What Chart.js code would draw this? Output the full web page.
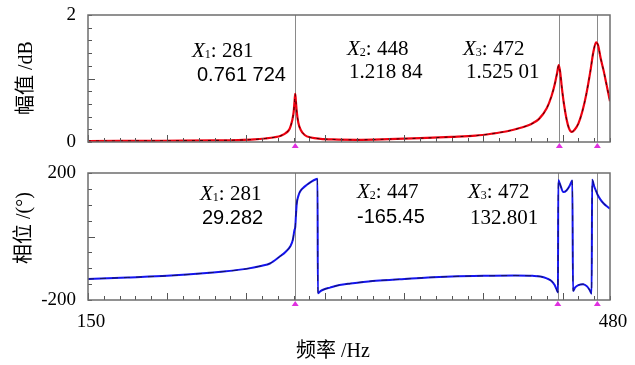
<!DOCTYPE html>
<html>
<head>
<meta charset="utf-8">
<script src="https://cdn.jsdelivr.net/npm/chart.js@4.4.1/dist/chart.umd.min.js"></script>
<style>
    html, body { margin: 0; padding: 0; background: #fff; }
    #wrap { position: relative; width: 635px; height: 365px; overflow: hidden; background: #fff; }
    canvas { position: absolute; left: 0; }
    #magChart { top: 0; }
    #phaseChart { top: 160px; }
</style>
</head>
<body>
<div id="wrap">
    <canvas id="magChart" width="635" height="160"></canvas>
    <canvas id="phaseChart" width="635" height="205"></canvas>
</div>
<script>
// --- data ---
const magFreq = [150, 170, 190, 210, 230, 245, 255, 262, 268, 272, 275, 277.5, 279, 280, 280.6, 281,
    281.4, 282, 283, 284.5, 287, 291, 297, 305, 320, 340, 360, 380, 395, 405, 415, 423, 430, 435, 440,
    443, 445, 446.5, 447.6, 448.5, 449.5, 451, 452.6, 454, 455.8, 457.5, 460, 462.5, 465, 467.5, 469.5,
    471.2, 472.5, 474, 476, 478, 480];
const magDb = [0.015, 0.017, 0.019, 0.021, 0.025, 0.03, 0.04, 0.055, 0.075, 0.1, 0.14, 0.21, 0.33, 0.47, 0.65, 0.76,
    0.65, 0.47, 0.3, 0.19, 0.11, 0.07, 0.05, 0.04, 0.035, 0.045, 0.06, 0.08, 0.1, 0.13, 0.17, 0.22, 0.28, 0.36, 0.53,
    0.72, 0.9, 1.08, 1.21, 1.1, 0.87, 0.58, 0.35, 0.22, 0.16, 0.19, 0.29, 0.48, 0.75, 1.1, 1.42,
    1.57, 1.52, 1.33, 1.12, 0.88, 0.64];

const phaseFreq = [150, 175, 200, 225, 250, 260, 265, 271, 275, 278, 279.5, 280.5, 281, 281.5, 282, 283, 284,
    286, 288.2, 291, 294.5, 295.1, 295.3, 297, 299, 303, 309, 316, 330, 347, 365, 380, 400, 420, 431, 436,
    440, 443, 445, 446.5, 447.1, 447.3, 448.4, 450.5, 452.5, 454.5, 455.8, 456.2, 456.6, 458, 460, 463,
    465.5, 467.3, 468.4, 468.7, 470, 471.5, 472, 474, 476, 478, 480];
const phaseDeg = [-134, -129, -124, -115, -102, -92, -85, -64, -48, -30, -10, 20, 29, 70, 105, 128, 141,
    153, 162, 172, 181, 182, -179, -172, -167, -161, -153, -148, -140, -135, -129, -126, -124, -123, -124, -126,
    -132, -140, -153, -170, -176, 178, 165, 140, 145, 160, 174, 176, -172, -160, -153, -150,
    -157, -170, -180, 179, 158, 140, 133, 116, 104, 95, 88];

const magCursors = [281, 448, 472];
const magReadings = ['0.761 724', '1.218 84', '1.525 01'];
const phaseCursors = [281, 447, 472];
const phaseReadings = ['29.282', '-165.45', '132.801'];

const freqTickLabels = [150, 480];
const magTickLabels = [0, 2];
const phaseTickLabels = [-200, 200];

// --- layout / style ---
const SERIF = '"Liberation Serif", "Times New Roman", "Noto Sans CJK SC", serif';
const SANS = '"Liberation Sans", Arial, sans-serif';

const magNotePos = [
    { x: 192, y: 57, vx: 197, vy: 81, vfont: SANS },
    { x: 347, y: 55, vx: 349, vy: 78, vfont: SERIF },
    { x: 463, y: 55, vx: 466, vy: 78, vfont: SERIF }
];
const phaseNotePos = [
    { x: 200, y: 40, vx: 202, vy: 64, vfont: SANS },
    { x: 357, y: 38, vx: 357, vy: 63, vfont: SANS },
    { x: 468, y: 38, vx: 470, vy: 64, vfont: SERIF }
];

function toPoints(xs, ys) {
    return xs.map((x, i) => ({ x: x, y: ys[i] }));
}

// frame, inward ticks, cursors, markers and texts
const panelDecor = {
    id: 'panelDecor',
    beforeDatasetsDraw(chart, args, opts) {
        const { ctx, chartArea: a, scales: { x } } = chart;
        ctx.save();
        ctx.strokeStyle = '#8a8a8a';
        ctx.lineWidth = 1;
        opts.cursors.forEach(v => {
            const px = Math.round(x.getPixelForValue(v)) + 0.5;
            ctx.beginPath();
            ctx.moveTo(px, a.top);
            ctx.lineTo(px, a.bottom);
            ctx.stroke();
        });
        ctx.restore();
    },
    afterDraw(chart, args, opts) {
        const { ctx, chartArea: a, scales: { x, y } } = chart;
        ctx.save();

        // ticks pointing inside
        ctx.strokeStyle = '#555';
        ctx.lineWidth = 1;
        x.ticks.forEach(t => {
            const px = Math.round(x.getPixelForValue(t.value)) + 0.5;
            const len = t.value % 50 === 0 ? 7 : 4;
            ctx.beginPath();
            ctx.moveTo(px, a.bottom);
            ctx.lineTo(px, a.bottom - len);
            ctx.stroke();
        });
        y.ticks.forEach(t => {
            const py = Math.round(y.getPixelForValue(t.value)) + 0.5;
            const len = Math.abs(t.value - opts.yMajor) < 1e-6 ? 7 : 4;
            ctx.beginPath();
            ctx.moveTo(a.left, py);
            ctx.lineTo(a.left + len, py);
            ctx.stroke();
        });

        // frame
        ctx.strokeStyle = '#6e6e6e';
        ctx.lineWidth = 1.5;
        ctx.strokeRect(a.left, a.top, a.right - a.left, a.bottom - a.top);

        // cursor markers
        ctx.fillStyle = '#e030e0';
        opts.cursors.forEach(v => {
            const px = x.getPixelForValue(v);
            ctx.beginPath();
            ctx.moveTo(px, a.bottom + 1);
            ctx.lineTo(px + 3.5, a.bottom + 6);
            ctx.lineTo(px - 3.5, a.bottom + 6);
            ctx.closePath();
            ctx.fill();
        });

        // readouts
        ctx.fillStyle = '#000';
        ctx.textBaseline = 'alphabetic';
        ctx.textAlign = 'left';
        opts.cursors.forEach((v, i) => {
            const p = opts.notes[i];
            let cx = p.x;
            ctx.font = 'italic 21px ' + SERIF;
            ctx.fillText('X', cx, p.y);
            cx += ctx.measureText('X').width;
            ctx.font = '12px ' + SERIF;
            ctx.fillText(String(i + 1), cx, p.y + 1);
            cx += ctx.measureText(String(i + 1)).width;
            ctx.font = '21px ' + SERIF;
            ctx.fillText(': ' + v, cx, p.y);
            ctx.font = (p.vfont === SANS ? '20px ' : '21px ') + p.vfont;
            ctx.fillText(opts.readings[i], p.vx, p.vy);
        });

        // axis titles
        ctx.font = '20px ' + SERIF;
        ctx.textAlign = 'center';
        ctx.textBaseline = 'middle';
        ctx.save();
        ctx.translate(opts.yTitlePos.x, opts.yTitlePos.y);
        ctx.rotate(-Math.PI / 2);
        ctx.fillText(opts.yTitle, 0, 0);
        ctx.restore();
        if (opts.xTitle) {
            ctx.fillText(opts.xTitle, opts.xTitlePos.x, opts.xTitlePos.y);
        }
        ctx.restore();
    }
};

// label gap comes from the (hidden) tick length, so it does not pad the chart area
function makeScales(yMin, yMax, yStep, yLabels, showX, xHeight) {
    return {
        x: {
            type: 'linear', min: 150, max: 480,
            grid: { display: false, drawTicks: true, tickLength: 11 },
            border: { display: false },
            ticks: {
                display: showX, stepSize: 10, autoSkip: false, maxRotation: 0, padding: 0, labelOffset: 3,
                color: '#000', font: { family: SERIF, size: 19 },
                callback: v => freqTickLabels.includes(v) ? String(v) : ''
            },
            afterFit: s => { s.height = xHeight; }
        },
        y: {
            min: yMin, max: yMax,
            grid: { display: false, drawTicks: true, tickLength: 12 },
            border: { display: false },
            ticks: {
                stepSize: yStep, autoSkip: false, padding: 0,
                color: '#000', font: { family: SERIF, size: 19 },
                callback: v => yLabels.some(l => Math.abs(l - v) < 1e-6) ? String(Math.round(v)) : ''
            },
            afterFit: s => { s.width = 88; }
        }
    };
}

function createMagChart() {
    const ctx = document.getElementById('magChart').getContext('2d');
    new Chart(ctx, {
        type: 'line',
        data: {
            datasets: [
                {
                    data: toPoints(magFreq, magDb), order: 0,
                    borderColor: 'rgba(20, 0, 0, 0.8)', borderWidth: 1, borderDash: [3, 5],
                    pointRadius: 0, cubicInterpolationMode: 'monotone'
                },
                {
                    data: toPoints(magFreq, magDb), order: 1,
                    borderColor: '#ee0010', borderWidth: 2.2,
                    pointRadius: 0, cubicInterpolationMode: 'monotone'
                }
            ]
        },
        options: {
            responsive: false, animation: false,
            layout: { padding: { top: 15, right: 25, left: 0, bottom: 0 } },
            plugins: {
                legend: { display: false }, tooltip: { enabled: false },
                panelDecor: {
                    cursors: magCursors, readings: magReadings, notes: magNotePos, yMajor: 1,
                    yTitle: '幅值 /dB', yTitlePos: { x: 27, y: 78 }
                }
            },
            scales: makeScales(0, 2, 0.2, magTickLabels, false, 18)
        },
        plugins: [panelDecor]
    });
}

function createPhaseChart() {
    const ctx = document.getElementById('phaseChart').getContext('2d');
    new Chart(ctx, {
        type: 'line',
        data: {
            datasets: [
                {
                    data: toPoints(phaseFreq, phaseDeg), order: 0,
                    borderColor: 'rgba(20, 20, 70, 0.85)', borderWidth: 1, borderDash: [6, 6],
                    pointRadius: 0, cubicInterpolationMode: 'monotone'
                },
                {
                    data: toPoints(phaseFreq, phaseDeg), order: 1,
                    borderColor: '#1414f0', borderWidth: 2,
                    pointRadius: 0, cubicInterpolationMode: 'monotone'
                }
            ]
        },
        options: {
            responsive: false, animation: false,
            layout: { padding: { top: 13, right: 25, left: 0, bottom: 0 } },
            plugins: {
                legend: { display: false }, tooltip: { enabled: false },
                panelDecor: {
                    cursors: phaseCursors, readings: phaseReadings, notes: phaseNotePos, yMajor: 0,
                    yTitle: '相位 /(°)', yTitlePos: { x: 25, y: 68 },
                    xTitle: '频率 /Hz', xTitlePos: { x: 333, y: 192 }
                }
            },
            scales: makeScales(-200, 200, 50, phaseTickLabels, true, 65)
        },
        plugins: [panelDecor]
    });
}

createMagChart();
createPhaseChart();
</script>
</body>
</html>
